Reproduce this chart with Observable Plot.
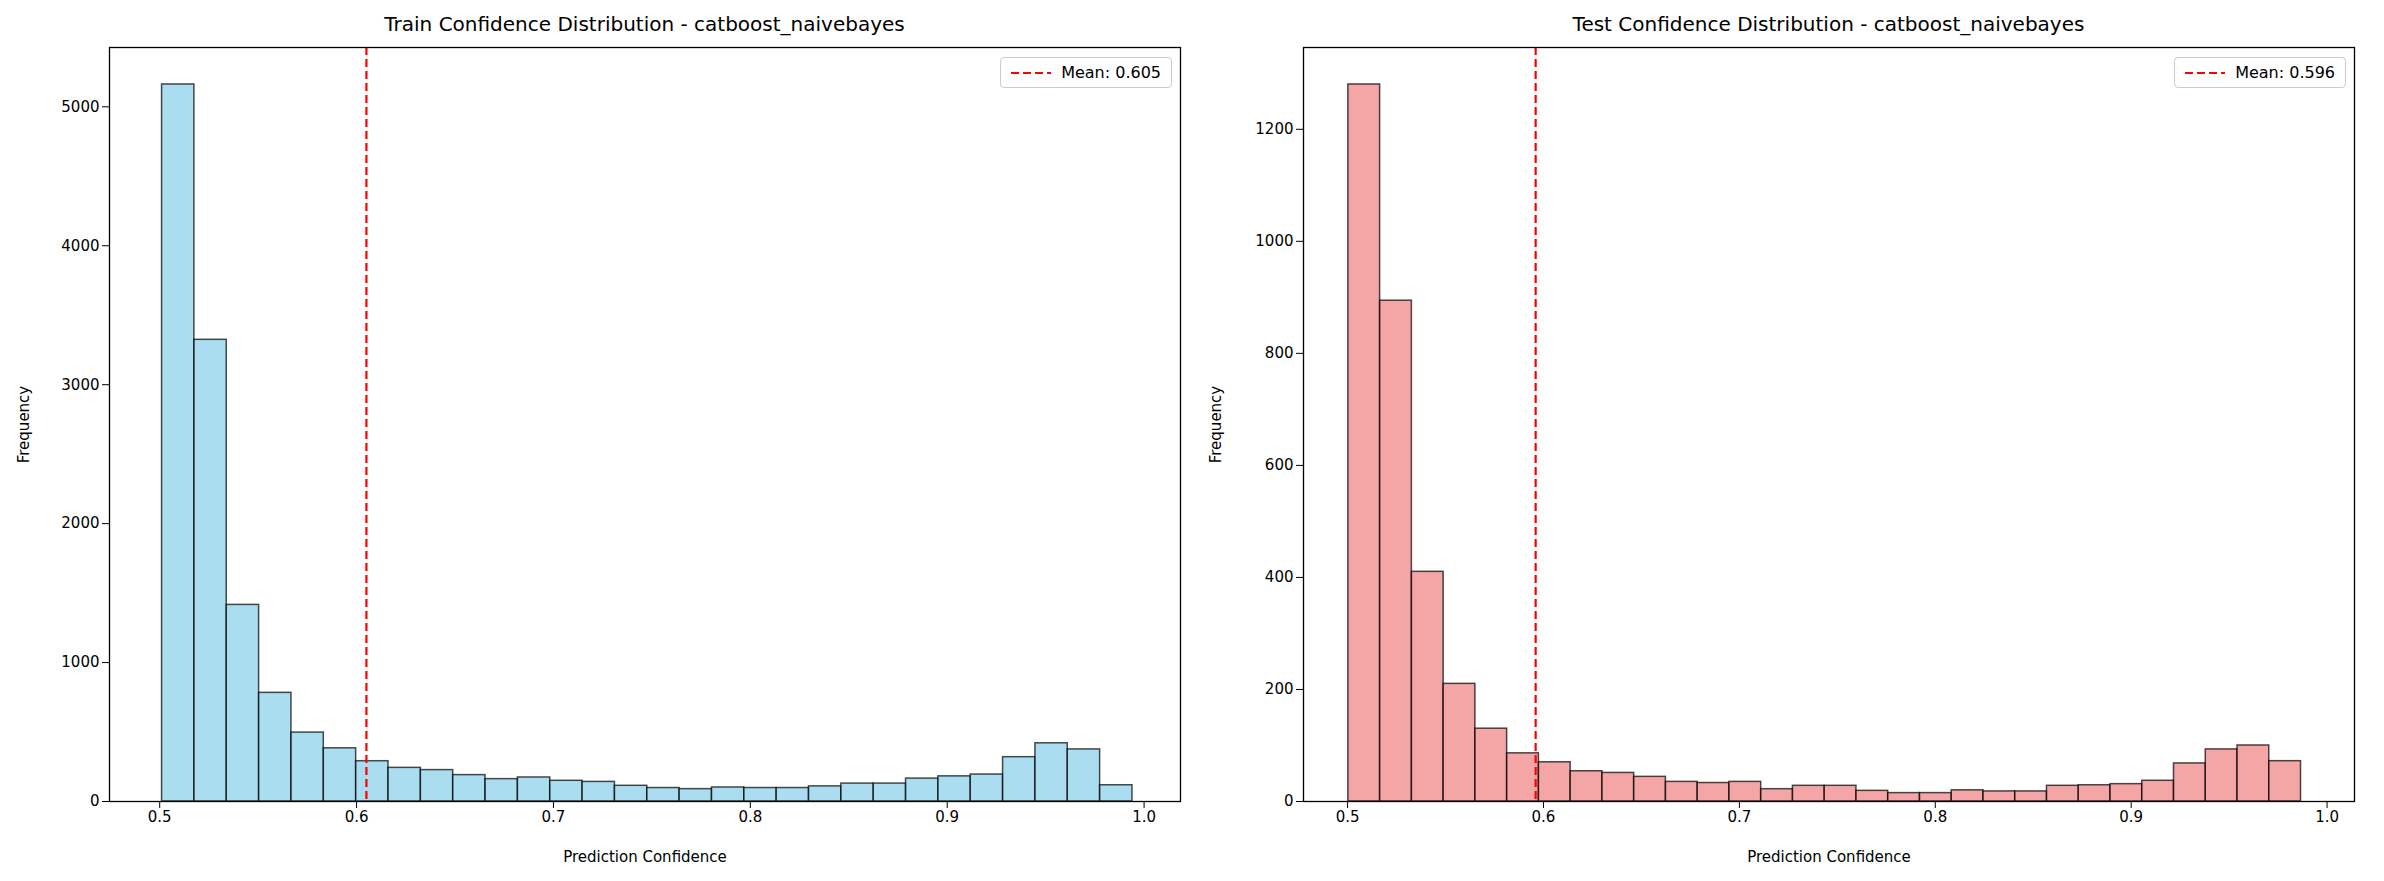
<!DOCTYPE html>
<html><head><meta charset="utf-8">
<script src="https://cdn.jsdelivr.net/npm/d3@7"></script>
<script src="https://cdn.jsdelivr.net/npm/@observablehq/plot@0.6"></script>
<style>
body{margin:0;background:#fff;font-family:"DejaVu Sans",sans-serif;}
#wrap{display:flex;width:2384px;height:881px;position:relative}
.panel{position:relative;width:1192px;height:881px}
.title{position:absolute;top:12px;width:100%;text-align:center;font-size:20px;color:#000}
.legend{position:absolute;border:1px solid #ccc;border-radius:4px;background:#fff;font-size:16px;padding:5px 10px;display:flex;align-items:center;gap:10px}
.legend svg{display:block}
</style></head><body>
<div id="wrap"><div class="panel" id="p1"></div><div class="panel" id="p2"></div></div>
<script>
const trainCounts=[5161,3323,1415,782,496,383,290,242,226,190,161,173,149,141,113,97,89,101,97,97,109,129,129,165,181,194,319,419,375,117];
const testCounts=[1280,894,410,210,130,86,70,54,51,44,35,33,35,22,28,28,19,15,15,20,18,18,28,29,31,37,68,93,100,72];
const trainStart=0.5012, trainWidth=0.01643, trainMean=0.605;
const testStart=0.5004, testWidth=0.01621, testMean=0.596;

function bins(counts,start,w){return counts.map((c,i)=>({x1:start+i*w,x2:start+(i+1)*w,y:c}));}

function make(el,cfg){
  const data=bins(cfg.counts,cfg.start,cfg.width);
  const p=Plot.plot({
    width:1192,height:881,
    marginLeft:cfg.ml,marginRight:cfg.mr,marginTop:47,marginBottom:80,
    style:{fontSize:"15px",fontFamily:"DejaVu Sans, sans-serif",color:"#000",background:"#fff"},
    x:{domain:cfg.xd,ticks:[0.5,0.6,0.7,0.8,0.9,1.0],tickFormat:d3.format(".1f"),label:"Prediction Confidence",labelAnchor:"center",labelArrow:"none",labelOffset:60,tickSize:7},
    y:{domain:cfg.yd,ticks:cfg.yt,tickFormat:d=>String(d),label:"Frequency",labelAnchor:"center",labelArrow:"none",labelOffset:cfg.ml-18,tickSize:7},
    marks:[
      Plot.rectY(data,{x1:"x1",x2:"x2",y:"y",fill:cfg.fill,fillOpacity:0.7,stroke:"#000",strokeOpacity:0.7,strokeWidth:1.5}),
      Plot.ruleX([cfg.mean],{stroke:"red",strokeWidth:2.2,strokeDasharray:"8,4"}),
      Plot.frame({stroke:"#000",strokeWidth:1.3})
    ]
  });
  el.appendChild(p);
  const t=document.createElement("div");t.className="title";t.textContent=cfg.title;
  t.style.left=(cfg.ml-(1192-cfg.ml-cfg.mr)/2*0)+"px";
  t.style.width=(1192-cfg.ml-cfg.mr)+"px";t.style.left=cfg.ml+"px";
  el.appendChild(t);
  const lg=document.createElement("div");lg.className="legend";
  lg.style.right=(cfg.mr+8)+"px";lg.style.top="57px";
  lg.innerHTML='<svg width="40" height="10"><line x1="0" y1="5" x2="40" y2="5" stroke="red" stroke-width="2.2" stroke-dasharray="8,4"/></svg><span>Mean: '+cfg.mean.toFixed(3)+'</span>';
  el.appendChild(lg);
}
make(document.getElementById("p1"),{counts:trainCounts,start:trainStart,width:trainWidth,mean:trainMean,fill:"#87CEEB",
  ml:109,mr:12,xd:[0.4745,1.0185],yd:[0,5427],yt:[0,1000,2000,3000,4000,5000],title:"Train Confidence Distribution - catboost_naivebayes"});
make(document.getElementById("p2"),{counts:testCounts,start:testStart,width:testWidth,mean:testMean,fill:"#F08080",
  ml:111,mr:30,xd:[0.4775,1.014],yd:[0,1346],yt:[0,200,400,600,800,1000,1200],title:"Test Confidence Distribution - catboost_naivebayes"});
</script></body></html>
